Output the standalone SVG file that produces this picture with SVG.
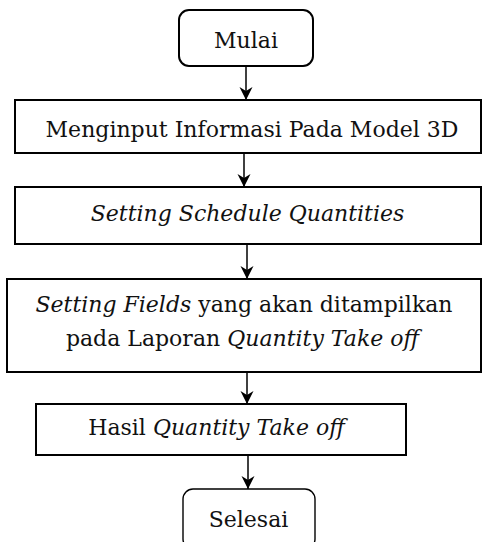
<svg xmlns="http://www.w3.org/2000/svg" width="482" height="542" viewBox="0 0 482 542">
  <defs>
    <marker id="arrow" markerUnits="userSpaceOnUse" markerWidth="14" markerHeight="14" viewBox="0 0 14 14" refX="13" refY="7" orient="auto">
      <path d="M0,0.5 L13,7 L0,13.5 L4,7 Z" fill="#000"/>
    </marker>
  </defs>
  <style>
    .box { fill: #fff; stroke: #000; stroke-width: 2; }
    .thin { stroke-width: 1.4; }
    .label { font-family: "DejaVu Serif", "Liberation Serif", serif; font-size: 22px; fill: #111; text-anchor: middle; }
    .it { font-style: italic; }
    .conn { stroke: #000; stroke-width: 1.5; fill: none; marker-end: url(#arrow); }
  </style>

  <rect width="482" height="542" fill="#fff"/>

  <g id="connectors">
    <line class="conn" x1="246" y1="66" x2="246" y2="100"/>
    <line class="conn" x1="244" y1="153" x2="244" y2="187"/>
    <line class="conn" x1="247" y1="244" x2="247" y2="279"/>
    <line class="conn" x1="247" y1="372" x2="247" y2="404"/>
    <line class="conn" x1="248" y1="455" x2="248" y2="489"/>
  </g>

  <g id="mulai">
    <rect class="box" x="179" y="10" width="134" height="56" rx="10"/>
    <text class="label" x="246" y="48">Mulai</text>
  </g>

  <g id="menginput">
    <rect class="box" x="15" y="100" width="466" height="53"/>
    <text class="label" x="252" y="137">Menginput Informasi Pada Model 3D</text>
  </g>

  <g id="setting-schedule">
    <rect class="box" x="15" y="187" width="466" height="57"/>
    <text class="label it" x="247.5" y="221">Setting Schedule Quantities</text>
  </g>

  <g id="setting-fields">
    <rect class="box" x="7" y="279" width="474" height="93"/>
    <text class="label" x="244" y="312"><tspan class="it">Setting Fields</tspan> yang akan ditampilkan</text>
    <text class="label" x="242.5" y="346">pada Laporan <tspan class="it">Quantity Take off</tspan></text>
  </g>

  <g id="hasil">
    <rect class="box" x="36" y="404" width="370" height="51"/>
    <text class="label" x="216.5" y="435">Hasil <tspan class="it">Quantity Take off</tspan></text>
  </g>

  <g id="selesai">
    <rect class="box thin" x="183" y="489" width="132" height="60" rx="10"/>
    <text class="label" x="248.5" y="527">Selesai</text>
  </g>
</svg>
